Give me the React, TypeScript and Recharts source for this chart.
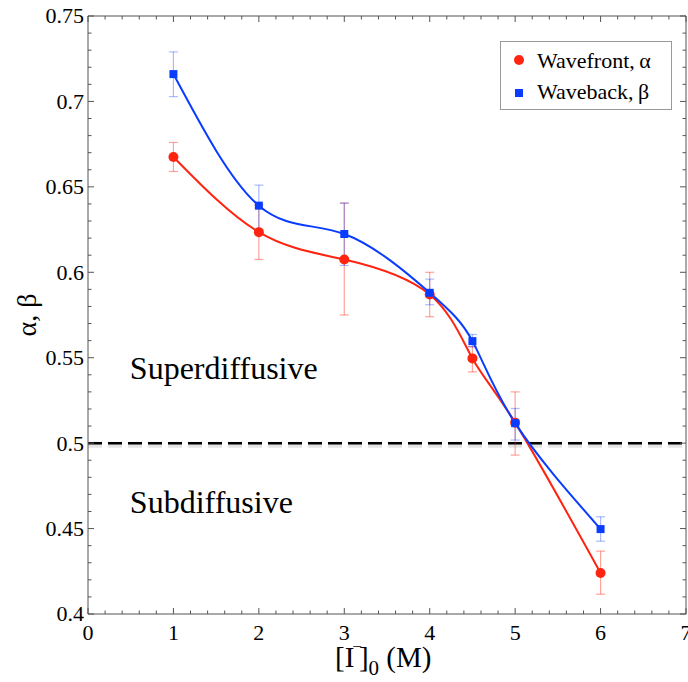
import React from 'react';
import {
  ComposedChart,
  Line,
  XAxis,
  YAxis,
  ErrorBar,
  ReferenceLine,
  ReferenceDot,
  Legend,
  Label,
} from 'recharts';

const FONT = "'Liberation Serif', 'Times New Roman', Times, serif";
const RED = '#ff2410';
const BLUE = '#0a3cff';
const RED_ERR = 'rgba(255,36,16,0.42)';
const BLUE_ERR = 'rgba(10,60,255,0.35)';
const AXIS = '#555555';

// Data
const concentration = [1, 2, 3, 4, 4.5, 5, 6];
const alphaValues = [0.6675, 0.6235, 0.6075, 0.587, 0.5496, 0.512, 0.424];
const alphaLower = [0.659, 0.6075, 0.575, 0.574, 0.5417, 0.493, 0.4116];
const alphaUpper = [0.676, 0.6395, 0.6405, 0.6, 0.5565, 0.53, 0.4368];
const betaValues = [0.716, 0.639, 0.6224, 0.588, 0.5597, 0.5117, 0.4497];
const betaLower = [0.7028, 0.625, 0.604, 0.581, 0.5564, 0.5018, 0.4426];
const betaUpper = [0.729, 0.651, 0.6405, 0.596, 0.5636, 0.5203, 0.4569];

const seriesNames = ['Wavefront,\u2009α', 'Waveback,\u2009β'];

// Axis ticks
const xMajorTicks = [0, 1, 2, 3, 4, 5, 6, 7];
const xTickLabels = ['0', '1', '2', '3', '4', '5', '6', '7'];
const yMajorTicks = [0.4, 0.45, 0.5, 0.55, 0.6, 0.65, 0.7, 0.75];
const yTickLabels = ['0.4', '0.45', '0.5', '0.55', '0.6', '0.65', '0.7', '0.75'];
const xMinorPerMajor = 5;
const yMinorPerMajor = 5;

const xAllTicks: number[] = [];
for (let i = 0; i < xMajorTicks.length - 1; i++) {
  const a = xMajorTicks[i];
  const b = xMajorTicks[i + 1];
  for (let k = 0; k < xMinorPerMajor; k++) xAllTicks.push(a + ((b - a) * k) / xMinorPerMajor);
}
xAllTicks.push(xMajorTicks[xMajorTicks.length - 1]);
const yAllTicks: number[] = [];
for (let i = 0; i < yMajorTicks.length - 1; i++) {
  const a = yMajorTicks[i];
  const b = yMajorTicks[i + 1];
  for (let k = 0; k < yMinorPerMajor; k++) yAllTicks.push(a + ((b - a) * k) / yMinorPerMajor);
}
yAllTicks.push(yMajorTicks[yMajorTicks.length - 1]);

const annotations = [
  { x: 0.49, y: 0.5375, text: 'Superdiffusive' },
  { x: 0.49, y: 0.459, text: 'Subdiffusive' },
];

const chartData = concentration.map((x, i) => ({
  x,
  alpha: alphaValues[i],
  alphaErr: [alphaValues[i] - alphaLower[i], alphaUpper[i] - alphaValues[i]],
  beta: betaValues[i],
  betaErr: [betaValues[i] - betaLower[i], betaUpper[i] - betaValues[i]],
}));

const findIdx = (arr: number[], v: number) => arr.findIndex((m) => Math.abs(m - v) < 1e-9);

const MAJOR_LEN = 6;
const MINOR_LEN = 3.5;

const BottomTick = (p: any) => {
  const v = p.payload.value;
  const idx = findIdx(xMajorTicks, v);
  const len = idx >= 0 ? MAJOR_LEN : MINOR_LEN;
  return (
    <g>
      <line x1={p.x} x2={p.x} y1={p.y} y2={p.y - len} stroke={AXIS} strokeWidth={1} />
      {idx >= 0 && (
        <text x={p.x} y={p.y + 26} textAnchor="middle" fontSize={22} fontFamily={FONT} fill="#000">
          {xTickLabels[idx]}
        </text>
      )}
    </g>
  );
};

const TopTick = (p: any) => {
  const v = p.payload.value;
  const idx = findIdx(xMajorTicks, v);
  const len = idx >= 0 ? MAJOR_LEN : MINOR_LEN;
  return <line x1={p.x} x2={p.x} y1={p.y} y2={p.y + len} stroke={AXIS} strokeWidth={1} />;
};

const LeftTick = (p: any) => {
  const v = p.payload.value;
  const idx = findIdx(yMajorTicks, v);
  const len = idx >= 0 ? MAJOR_LEN : MINOR_LEN;
  return (
    <g>
      <line x1={p.x} x2={p.x + len} y1={p.y} y2={p.y} stroke={AXIS} strokeWidth={1} />
      {idx >= 0 && (
        <text x={p.x - 4} y={p.y} dy="0.34em" textAnchor="end" fontSize={22} fontFamily={FONT} fill="#000">
          {yTickLabels[idx]}
        </text>
      )}
    </g>
  );
};

const RightTick = (p: any) => {
  const v = p.payload.value;
  const idx = findIdx(yMajorTicks, v);
  const len = idx >= 0 ? MAJOR_LEN : MINOR_LEN;
  return <line x1={p.x} x2={p.x - len} y1={p.y} y2={p.y} stroke={AXIS} strokeWidth={1} />;
};

const SquareDot = (p: any) => {
  const { cx, cy, index } = p;
  if (cx == null || cy == null) return <g key={`sq-${index}`} />;
  return <rect key={`sq-${index}`} x={cx - 4} y={cy - 4} width={8} height={8} fill={BLUE} />;
};

const CircleDot = (p: any) => {
  const { cx, cy, index } = p;
  if (cx == null || cy == null) return <g key={`ci-${index}`} />;
  return <circle key={`ci-${index}`} cx={cx} cy={cy} r={5} fill={RED} />;
};

const XLabel = (p: any) => {
  const vb = p.viewBox || {};
  const cx = vb.x + vb.width / 2;
  const x0 = cx - 52;
  const yb = 667;
  return (
    <text x={x0} y={yb} fontSize={29} fontFamily={FONT} fill="#000">
      <tspan>[I</tspan>
      <tspan dx={-2} dy={-15} fontSize={17}>−</tspan>
      <tspan dx={-3} dy={15}>]</tspan>
      <tspan dy={8} fontSize={21}>0</tspan>
      <tspan dy={-8}> (M)</tspan>
    </text>
  );
};

const YLabel = () => {
  const cy = 16 + 598 / 2;
  const x = 36;
  return (
    <text
      x={x}
      y={cy}
      textAnchor="middle"
      fontSize={28}
      fontFamily={FONT}
      fill="#000"
      transform={`rotate(-90, ${x}, ${cy})`}
    >
      α, β
    </text>
  );
};

const makeAnnotation = (text: string) => (p: any) => {
  const vb = p.viewBox || {};
  return (
    <text x={vb.x} y={vb.y} fontSize={32} fontFamily={FONT} fill="#000">
      {text}
    </text>
  );
};

const LegendBox = () => (
  <svg width={172} height={69} style={{ display: 'block' }}>
    <rect x={0.5} y={0.5} width={171} height={68} fill="#fff" stroke="#999" strokeWidth={1} />
    <circle cx={19} cy={19} r={5} fill={RED} />
    <text x={37} y={27} fontSize={22} fontFamily={FONT} fill="#000">
      {seriesNames[0]}
    </text>
    <rect x={15} y={48} width={8} height={8} fill={BLUE} />
    <text x={37} y={58} fontSize={22} fontFamily={FONT} fill="#000">
      {seriesNames[1]}
    </text>
  </svg>
);

export default function App() {
  return (
    <div style={{ position: 'absolute', left: 0, top: 0, width: 688, height: 682, background: '#fff' }}>
      <ComposedChart
        width={688}
        height={682}
        data={chartData}
        margin={{ top: 15, right: 1, bottom: 0, left: 0 }}
      >
        <XAxis
          dataKey="x"
          type="number"
          domain={[0, 7]}
          ticks={xAllTicks}
          interval={0}
          allowDataOverflow
          height={68}
          tickSize={0}
          tickMargin={0}
          tickLine={false}
          tick={BottomTick}
          axisLine={{ stroke: AXIS, strokeWidth: 1 }}
        >
          <Label content={XLabel} />
        </XAxis>
        <XAxis
          xAxisId="top"
          orientation="top"
          dataKey="x"
          type="number"
          domain={[0, 7]}
          ticks={xAllTicks}
          interval={0}
          allowDataOverflow
          height={1}
          tickSize={0}
          tickMargin={0}
          tickLine={false}
          tick={TopTick}
          axisLine={{ stroke: AXIS, strokeWidth: 1 }}
        />
        <YAxis
          type="number"
          domain={[0.4, 0.75]}
          ticks={yAllTicks}
          interval={0}
          allowDataOverflow
          width={88}
          tickSize={0}
          tickMargin={0}
          tickLine={false}
          tick={LeftTick}
          axisLine={{ stroke: AXIS, strokeWidth: 1 }}
        >
          <Label content={YLabel} />
        </YAxis>
        <YAxis
          yAxisId="right"
          orientation="right"
          type="number"
          domain={[0.4, 0.75]}
          ticks={yAllTicks}
          interval={0}
          allowDataOverflow
          width={1}
          tickSize={0}
          tickMargin={0}
          tickLine={false}
          tick={RightTick}
          axisLine={{ stroke: AXIS, strokeWidth: 1 }}
        />
        <ReferenceLine
          y={0.5}
          stroke="rgba(0,0,0,0.10)"
          strokeWidth={6}
          strokeDasharray="14 6"
          transform="translate(0,1.5)"
        />
        <ReferenceLine y={0.5} stroke="#000" strokeWidth={2.5} strokeDasharray="14 6" />
        {annotations.map((a) => (
          <ReferenceDot
            key={a.text}
            x={a.x}
            y={a.y}
            r={0}
            fill="none"
            stroke="none"
            label={{ content: makeAnnotation(a.text) }}
          />
        ))}
        <Line
          dataKey="alpha"
          name={seriesNames[0]}
          type="natural"
          stroke={RED}
          strokeWidth={2}
          dot={CircleDot}
          activeDot={false}
          isAnimationActive={false}
        >
          <ErrorBar dataKey="alphaErr" direction="y" width={4.5} stroke={RED_ERR} strokeWidth={1.2} />
        </Line>
        <Line
          dataKey="beta"
          name={seriesNames[1]}
          type="natural"
          stroke={BLUE}
          strokeWidth={2}
          dot={SquareDot}
          activeDot={false}
          isAnimationActive={false}
        >
          <ErrorBar dataKey="betaErr" direction="y" width={4.5} stroke={BLUE_ERR} strokeWidth={1.2} />
        </Line>
        <Legend
          layout="vertical"
          align="center"
          verticalAlign="middle"
          wrapperStyle={{ left: 500, top: 41, width: 172, height: 69 }}
          content={LegendBox}
        />
      </ComposedChart>
    </div>
  );
}
